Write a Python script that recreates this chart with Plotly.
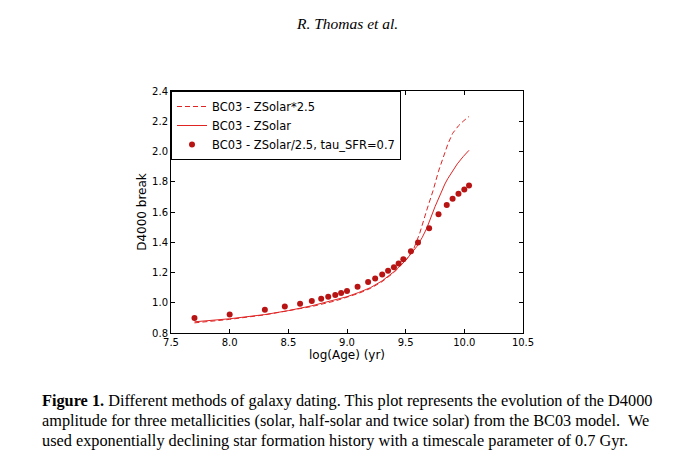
"""D4000 break vs log(Age) for three BC03 models."""

import plotly.graph_objects as go

# BC03 - ZSolar*2.5 (dashed)
age_zsol25 = [7.70, 8.00, 8.30, 8.50, 8.70, 8.90, 9.00, 9.10, 9.20, 9.30, 9.40,
              9.50, 9.565, 9.62, 9.68, 9.735, 9.78, 9.82, 9.86, 9.90, 9.95, 9.99, 10.04]
d4000_zsol25 = [0.867, 0.890, 0.920, 0.945, 0.975, 1.012, 1.035, 1.062, 1.095, 1.140,
                1.200, 1.280, 1.349, 1.460, 1.613, 1.745, 1.870, 1.960, 2.050, 2.120,
                2.170, 2.200, 2.232]

# BC03 - ZSolar (solid)
age_zsol = [7.70, 8.00, 8.30, 8.50, 8.70, 8.90, 9.00, 9.10, 9.20, 9.30, 9.40,
            9.50, 9.55, 9.594, 9.64, 9.68, 9.75, 9.80, 9.834, 9.86, 9.90, 9.94,
            9.99, 10.04]
d4000_zsol = [0.874, 0.894, 0.922, 0.948, 0.980, 1.018, 1.040, 1.068, 1.100, 1.145,
              1.205, 1.280, 1.325, 1.371, 1.430, 1.493, 1.635, 1.730, 1.785, 1.822,
              1.870, 1.918, 1.966, 2.008]

# BC03 - ZSolar/2.5, tau_SFR=0.7 (dots)
age_zsol_div = [7.70, 8.00, 8.30, 8.47, 8.60, 8.70, 8.78, 8.84, 8.90, 8.95, 9.00,
                9.09, 9.18, 9.24, 9.30, 9.35, 9.40, 9.44, 9.48, 9.545, 9.605, 9.70,
                9.78, 9.85, 9.90, 9.95, 10.00, 10.04]
d4000_zsol_div = [0.900, 0.923, 0.954, 0.976, 0.993, 1.011, 1.026, 1.040, 1.051, 1.064,
                  1.077, 1.106, 1.137, 1.161, 1.187, 1.212, 1.234, 1.260, 1.287, 1.341,
                  1.398, 1.493, 1.585, 1.647, 1.688, 1.720, 1.748, 1.776]

x_ticks = [7.5, 8.0, 8.5, 9.0, 9.5, 10.0, 10.5]
y_ticks = [0.8, 1.0, 1.2, 1.4, 1.6, 1.8, 2.0, 2.2, 2.4]

caption_lines = [
    "<b>Figure 1.</b> Different methods of galaxy dating. This plot represents the evolution of the D4000",
    "amplitude for three metallicities (solar, half-solar and twice solar) from the BC03 model.  We",
    "used exponentially declining star formation history with a timescale parameter of 0.7 Gyr.",
]

LINE_RED = "#e02424"
DOT_RED = "#b81414"

W, H = 685, 471
M_L, M_R, M_T, M_B = 171, 162, 91, 138

fig = go.Figure()
fig.add_trace(go.Scatter(
    x=age_zsol25, y=d4000_zsol25, mode="lines", name="BC03 - ZSolar*2.5",
    line=dict(color=LINE_RED, width=1, dash="5px,3px"),
))
fig.add_trace(go.Scatter(
    x=age_zsol, y=d4000_zsol, mode="lines", name="BC03 - ZSolar",
    line=dict(color=LINE_RED, width=1),
))
fig.add_trace(go.Scatter(
    x=age_zsol_div, y=d4000_zsol_div, mode="markers",
    name="BC03 - ZSolar/2.5, tau_SFR=0.7",
    marker=dict(color=DOT_RED, size=6),
))

axis_style = dict(
    showline=True, linecolor="black", linewidth=1, mirror="ticks",
    ticks="inside", ticklen=4, tickcolor="black", showgrid=False, zeroline=False,
    tickfont=dict(family="DejaVu Sans", size=10, color="black"),
)

fig.update_xaxes(
    range=[7.5, 10.5], tickvals=x_ticks, ticktext=[f"{v:.1f}" for v in x_ticks],
    title=dict(text="log(Age) (yr)", font=dict(family="DejaVu Sans", size=12, color="black"),
               standoff=3),
    **axis_style,
)
fig.update_yaxes(
    range=[0.8, 2.4], tickvals=y_ticks, ticktext=[f"{v:.1f}" for v in y_ticks],
    title=dict(text="D4000 break", font=dict(family="DejaVu Sans", size=12, color="black"),
               standoff=2),
    **axis_style,
)

plot_h = H - M_T - M_B
plot_w = W - M_L - M_R

# header
fig.add_annotation(
    text="<i>R. Thomas et al.</i>", xref="paper", yref="paper",
    x=0.5, y=1 + (M_T - 23) / plot_h, xanchor="center", yanchor="middle",
    font=dict(family="Liberation Serif", size=15.5, color="black"), showarrow=False,
)

# caption, one annotation per line
for i, line in enumerate(caption_lines):
    fig.add_annotation(
        text=line, xref="paper", yref="paper",
        x=(40 - M_L) / plot_w, y=-(400 + 20 * i - M_T - plot_h) / plot_h,
        xanchor="left", yanchor="middle", showarrow=False,
        font=dict(family="Liberation Serif", size=16.3, color="black"),
    )

fig.update_layout(
    width=W, height=H, autosize=False,
    margin=dict(l=M_L, r=M_R, t=M_T, b=M_B),
    paper_bgcolor="white", plot_bgcolor="white",
    showlegend=True,
    legend=dict(
        x=0, y=1, xanchor="left", yanchor="top",
        bgcolor="white", bordercolor="black", borderwidth=1,
        font=dict(family="DejaVu Sans", size=11.5, color="black"),
        tracegroupgap=0, itemwidth=30,
    ),
)

fig.write_html(
    "out.html",
    config={"displayModeBar": False},
    post_script="document.body.style.margin='0px';",
)
